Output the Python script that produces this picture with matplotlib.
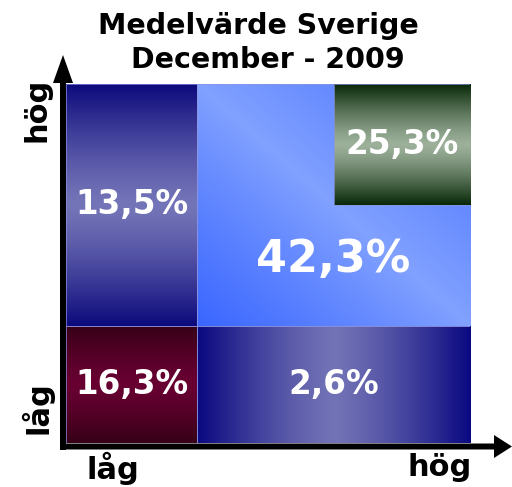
import numpy as np
import matplotlib
matplotlib.use("Agg")
import matplotlib.pyplot as plt
from matplotlib.colors import to_rgb
from matplotlib.patches import Rectangle, FancyArrow

# ---- data ----
title_lines = ["Medelvärde Sverige", "December - 2009"]
cell_labels = ["16,3%", "2,6%", "13,5%", "42,3%", "25,3%"]
cell_values = [16.3, 2.6, 13.5, 42.3, 25.3]
x_tick_labels = ["låg", "hög"]
y_tick_labels = ["låg", "hög"]

# ---- layout (grid units, fraction of plot box) ----
col_edges = [0.0, 0.324, 0.663, 1.0]
row_edges = [0.0, 0.326, 0.663, 1.0]
# cell: (col0, col1, row0, row1)
cells = [(0, 1, 0, 1), (1, 3, 0, 1), (0, 1, 1, 3), (1, 3, 1, 3), (2, 3, 2, 3)]
label_pos_override = {3: (None, 0.51)}
label_sizes = [23.5, 23.5, 23.5, 32, 23.5]
# gradient styles: (kind, dark, light)
styles = [
    ("v", "#360016", "#680032"),
    ("h", "#0a0880", "#7272b6"),
    ("v", "#0c0a7c", "#7474b8"),
    ("d", "#3a66ff", "#82a2ff"),
    ("v", "#082808", "#9cb09a"),
]

W, H = 512, 487
fig = plt.figure(figsize=(W / 100, H / 100), dpi=100)
fig.patch.set_facecolor("white")

px = lambda x: x / W
py = lambda y: 1 - y / H

ax = fig.add_axes([px(66), py(443), (470 - 66) / W, (443 - 84) / H])
ax.set_xlim(0, 1)
ax.set_ylim(0, 1)
ax.axis("off")

N = 300
def gradient(kind, dark, light):
    d = np.array(to_rgb(dark))
    l = np.array(to_rgb(light))
    u = np.linspace(0, 1, N)
    if kind == "v":
        t = 1 - np.abs(2 * u - 1) ** 1.3
        t = np.tile(t[:, None], (1, N))
    elif kind == "h":
        t = 1 - np.abs(2 * u - 1) ** 1.3
        t = np.tile(t[None, :], (N, 1))
    else:
        U, V = np.meshgrid(u, u)
        s = U - V
        t = 1 - np.clip(np.abs(s) ** 0.9 * np.where(s < 0, 1.0, 0.75), 0, 1)
    return d[None, None, :] * (1 - t[..., None]) + l[None, None, :] * t[..., None]

for i, (c0, c1, r0, r1) in enumerate(cells):
    x0, x1 = col_edges[c0], col_edges[c1]
    y0, y1 = row_edges[r0], row_edges[r1]
    img = gradient(*styles[i])
    ax.imshow(img, extent=(x0, x1, y0, y1), origin="upper", aspect="auto",
              interpolation="bilinear", zorder=1 + (i == 4) * 2)
    ax.add_patch(Rectangle((x0, y0), x1 - x0, y1 - y0, fill=False,
                           edgecolor="#8c94e0", lw=0.7, alpha=0.7,
                           zorder=2 + (i == 4) * 2))
    cx, cy = (x0 + x1) / 2, (y0 + y1) / 2
    if i in label_pos_override:
        ox, oy = label_pos_override[i]
        cx = cx if ox is None else ox
        cy = cy if oy is None else oy
    ax.text(cx, cy, cell_labels[i], color="white", fontsize=label_sizes[i],
            fontweight="bold", ha="center", va="center", zorder=6)

# ---- axes arrows (overlay, pixel coords) ----
ov = fig.add_axes([0, 0, 1, 1], facecolor="none")
ov.set_xlim(0, W)
ov.set_ylim(H, 0)
ov.axis("off")
ov.add_patch(FancyArrow(63, 450, 0, -395, width=6, head_width=20,
                        head_length=28, length_includes_head=True,
                        color="black", lw=0))
ov.add_patch(FancyArrow(60, 446.5, 452, 0, width=6, head_width=23,
                        head_length=18, length_includes_head=True,
                        color="black", lw=0))

# ---- titles ----
fig.text(px(258), py(26), title_lines[0], fontsize=20.5, fontweight="bold",
         ha="center", va="center")
fig.text(px(268), py(60), title_lines[1], fontsize=20.5, fontweight="bold",
         ha="center", va="center")

# ---- axis labels ----
fig.text(px(113), py(468), x_tick_labels[0], fontsize=22, fontweight="bold",
         ha="center", va="center")
fig.text(px(440), py(468), x_tick_labels[1], fontsize=22, fontweight="bold",
         ha="center", va="center")
fig.text(px(37), py(408), y_tick_labels[0], fontsize=22, fontweight="bold",
         ha="center", va="center", rotation=90)
fig.text(px(37), py(110), y_tick_labels[1], fontsize=22, fontweight="bold",
         ha="center", va="center", rotation=90)

fig.savefig("out.png", dpi=100, facecolor="white")
